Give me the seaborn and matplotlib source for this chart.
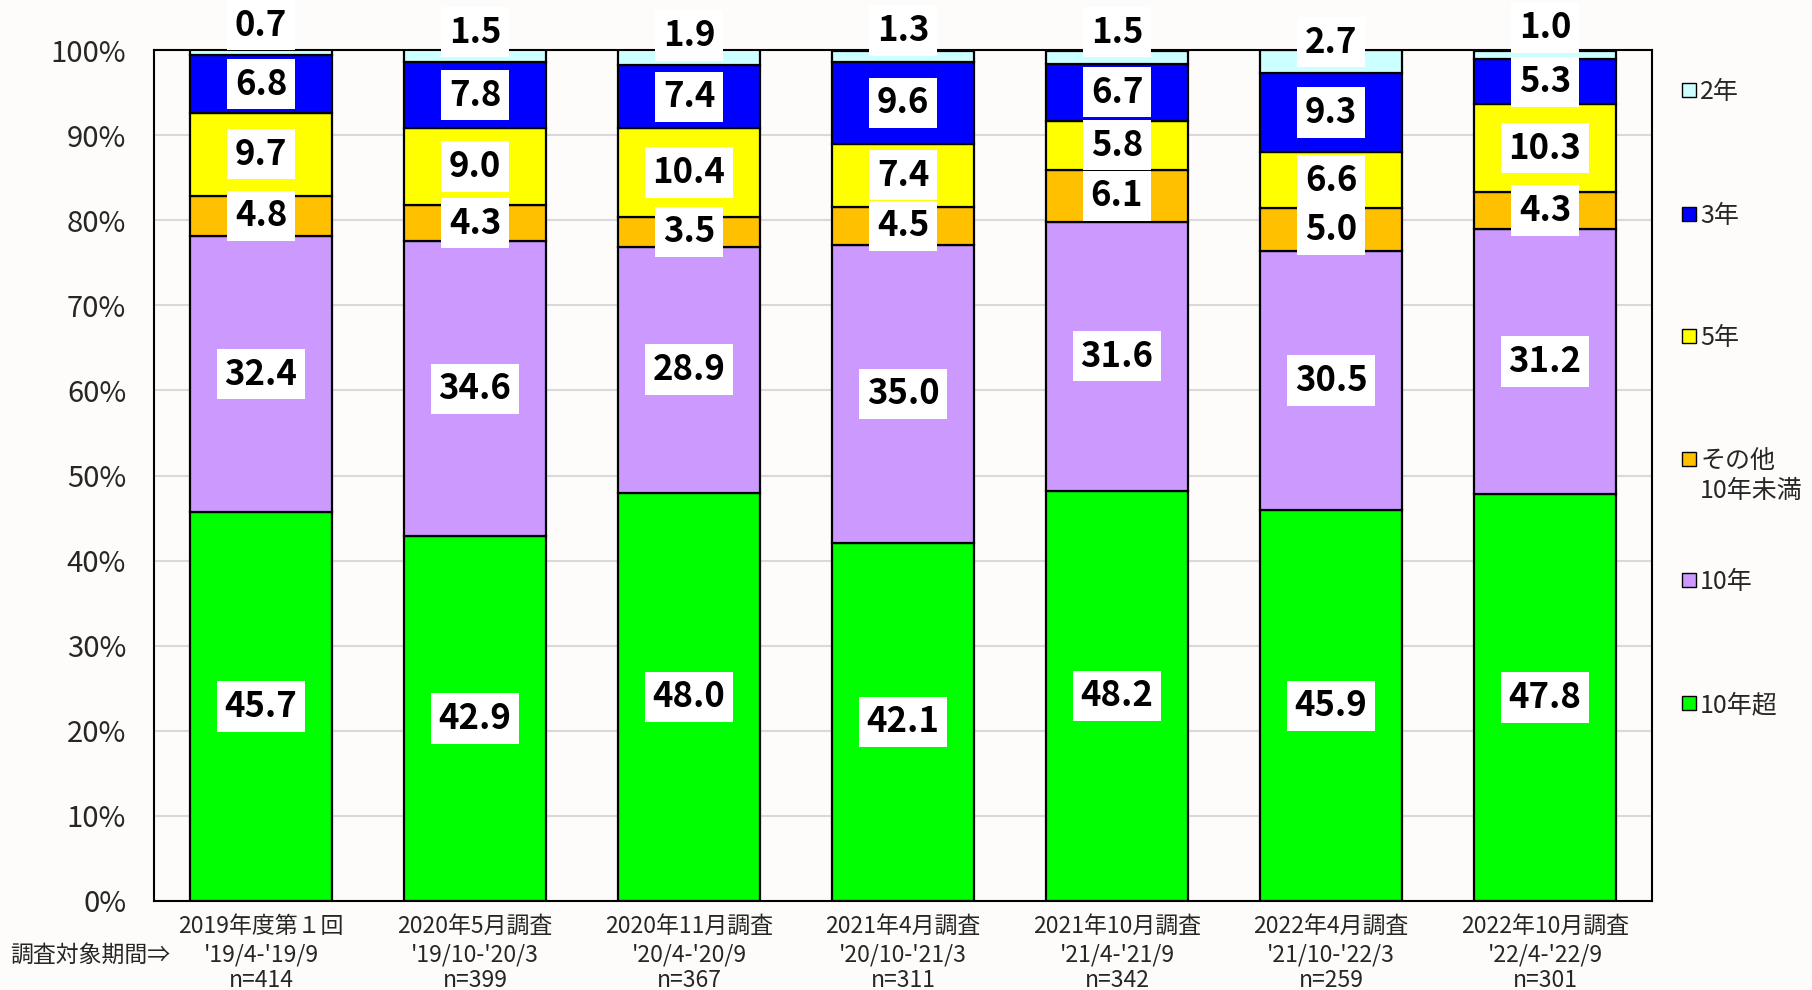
import matplotlib
matplotlib.use("Agg")
import matplotlib.pyplot as plt
from matplotlib.patches import Rectangle
import seaborn as sns
import numpy as np

sns.set_theme(style="white")
plt.rcParams["font.family"] = ["Noto Sans CJK JP", "DejaVu Sans"]

# Survey rounds
surveys = ["2019年度第１回", "2020年5月調査", "2020年11月調査", "2021年4月調査",
           "2021年10月調査", "2022年4月調査", "2022年10月調査"]
periods = ["'19/4-'19/9", "'19/10-'20/3", "'20/4-'20/9", "'20/10-'21/3",
           "'21/4-'21/9", "'21/10-'22/3", "'22/4-'22/9"]
sample_sizes = [414, 399, 367, 311, 342, 259, 301]

# Share of responses (%) by term, stacked bottom to top
over_10y = [45.7, 42.9, 48.0, 42.1, 48.2, 45.9, 47.8]
ten_y = [32.4, 34.6, 28.9, 35.0, 31.6, 30.5, 31.2]
other_under_10y = [4.8, 4.3, 3.5, 4.5, 6.1, 5.0, 4.3]
five_y = [9.7, 9.0, 10.4, 7.4, 5.8, 6.6, 10.3]
three_y = [6.8, 7.8, 7.4, 9.6, 6.7, 9.3, 5.3]
two_y = [0.7, 1.5, 1.9, 1.3, 1.5, 2.7, 1.0]

series_names = ["10年超", "10年", "その他\n10年未満", "5年", "3年", "2年"]
series_values = [over_10y, ten_y, other_under_10y, five_y, three_y, two_y]
series_colors = ["#00FF00", "#CC99FF", "#FFC000", "#FFFF00", "#0000FF", "#CCFFFF"]

bg = "#FDFCFA"
fig = plt.figure(figsize=(18.12, 9.90), dpi=100, facecolor=bg)
ax = fig.add_axes([154 / 1812, 1 - 901 / 990, (1652 - 154) / 1812, (901 - 50) / 990])
ax.set_facecolor(bg)

x_keys = list(range(len(surveys)))
bottoms = np.zeros(len(surveys))
for name, vals, col in zip(series_names, series_values, series_colors):
    vals = np.array(vals)
    sns.barplot(x=x_keys, y=vals, bottom=bottoms, color=col, width=0.664,
                edgecolor="black", linewidth=1.6, saturation=1, ax=ax, zorder=2)
    bottoms = bottoms + vals

# Value labels in white boxes; the thin top segment is labelled just above its bar
box = dict(boxstyle="square,pad=0.22", facecolor="white", edgecolor="none")
bottoms = np.zeros(len(surveys))
for si, vals in enumerate(series_values):
    for i, v in enumerate(vals):
        if si == len(series_values) - 1:
            yc = 100 - v + 3.6
        else:
            yc = bottoms[i] + v / 2
        ax.text(i, yc, f"{v:.1f}", ha="center", va="center", fontsize=25,
                fontweight="bold", color="black", bbox=box, zorder=5, clip_on=False)
    bottoms = bottoms + np.array(vals)

ax.set_ylim(0, 100)
ax.set_xlim(-0.5, len(surveys) - 0.5)
ax.set_yticks(np.arange(0, 101, 10))
ax.set_yticklabels([f"{t}%" for t in range(0, 101, 10)], fontsize=21)
ax.tick_params(axis="y", length=0, pad=20)
ax.set_xticks([])
ax.set_xlabel("")
ax.set_ylabel("")
ax.yaxis.grid(True, color="#D9D9D9", linewidth=1.5, zorder=0)
ax.set_axisbelow(True)
for sp in ax.spines.values():
    sp.set_visible(True)
    sp.set_color("black")
    sp.set_linewidth(1.5)

# Category labels under the axis (three lines each)
trans = ax.get_xaxis_transform()
for i in range(len(surveys)):
    ax.text(i, -0.030, surveys[i], transform=trans, ha="center", va="center", fontsize=16.5)
    ax.text(i, -0.063, periods[i], transform=trans, ha="center", va="center", fontsize=16.5)
    ax.text(i, -0.094, f"n={sample_sizes[i]}", transform=trans, ha="center", va="center", fontsize=16.5)
fig.text(10 / 1812, 1 - 955 / 990, "調査対象期間⇒", ha="left", va="center", fontsize=16.5)

# Legend on the right, top to bottom
legend_y = [90, 214, 336, 459, 580, 703]
for yy, name, col in zip(legend_y, series_names[::-1], series_colors[::-1]):
    fy = 1 - yy / 990
    fig.patches.append(Rectangle((1682 / 1812, fy - 7 / 990), 14 / 1812, 14 / 990,
                                 transform=fig.transFigure, facecolor=col,
                                 edgecolor="black", linewidth=1.0))
    fig.text(1700 / 1812, fy + 11 / 990, name, ha="left", va="top", fontsize=18,
             linespacing=1.2)

fig.savefig("out.png", dpi=100, facecolor=bg)
